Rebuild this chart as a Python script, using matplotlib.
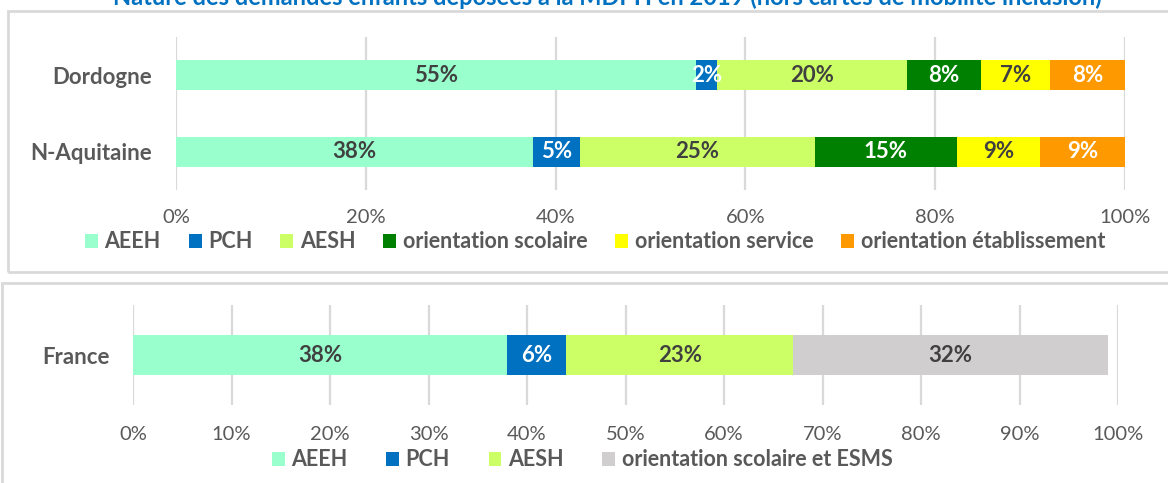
import matplotlib
matplotlib.use("Agg")
import matplotlib.pyplot as plt
from matplotlib.patches import Rectangle
from matplotlib.ticker import FuncFormatter

plt.rcParams['font.family'] = ['Lato', 'DejaVu Sans']

# ── Données ──────────────────────────────────────────────────
territoires = ["N-Aquitaine", "Dordogne"]
series_haut = ["AEEH", "PCH", "AESH", "orientation scolaire",
               "orientation service", "orientation établissement"]
valeurs_haut = {
    "N-Aquitaine": [37.6, 5.0, 24.7, 15.0, 8.7, 9.0],
    "Dordogne":    [54.8, 2.2, 20.0, 7.8, 7.3, 7.9],
}
couleurs_haut = ["#99FFCC", "#0070C0", "#CCFF66", "#008000", "#FFFF00", "#FF9900"]
texte_haut = ["#404040", "white", "#404040", "white", "#404040", "white"]

pays = ["France"]
series_bas = ["AEEH", "PCH", "AESH", "orientation scolaire et ESMS"]
valeurs_bas = [38.0, 6.0, 23.0, 32.0]
couleurs_bas = ["#99FFCC", "#0070C0", "#CCFF66", "#D0CECE"]
texte_bas = ["#404040", "white", "#404040", "#404040"]
# ─────────────────────────────────────────────────────────────

W, H = 1168, 483
fig = plt.figure(figsize=(W / 100, H / 100), dpi=100)

def px(x0, y0, x1, y1):
    # rectangle pixels -> coordonnées figure [left, bottom, width, height]
    return [x0 / W, 1 - y1 / H, (x1 - x0) / W, (y1 - y0) / H]

GRIS = "#595959"
GRILLE = "#D9D9D9"

# cadres des deux graphiques
for (x0, y0, x1, y1) in [(8, 11, 1180, 272), (2, 283, 1180, 500)]:
    r = px(x0, y0, x1, y1)
    fig.add_artist(Rectangle((r[0], r[1]), r[2], r[3], transform=fig.transFigure,
                             fill=False, edgecolor=GRILLE, lw=2, clip_on=False))

# titre (coupé en haut de l'image, comme dans l'original)
fig.text(607 / W, 1 + 3 / H, "Nature des demandes enfants déposées à la MDPH en 2019 "
         "(hors cartes de mobilité inclusion)", ha="center", va="center",
         color="#0070C0", fontsize=17, fontweight="bold")


def barres(ax, cats, data, noms, couleurs, couleurs_txt, hauteur):
    handles = []
    for i, nom in enumerate(noms):
        gauche = [sum(data[c][:i]) for c in cats]
        vals = [data[c][i] for c in cats]
        b = ax.barh(range(len(cats)), vals, left=gauche, height=hauteur,
                    color=couleurs[i], label=nom, zorder=3)
        handles.append(b)
        for y, (g, v) in enumerate(zip(gauche, vals)):
            ax.text(g + v / 2, y, f"{round(v):.0f}%", ha="center", va="center",
                    color=couleurs_txt[i], fontsize=16, fontweight="bold", zorder=4)
    ax.set_yticks(range(len(cats)))
    ax.set_yticklabels(cats, fontweight="bold", color=GRIS, fontsize=16)
    ax.set_ylim(-0.5, len(cats) - 0.5)
    ax.xaxis.set_major_formatter(FuncFormatter(lambda v, _: f"{v:.0f}%"))
    ax.grid(axis="x", color=GRILLE, lw=1.6, zorder=0)
    ax.set_axisbelow(True)
    for s in ax.spines.values():
        s.set_visible(False)
    ax.tick_params(axis="x", length=0, labelsize=14.5, colors=GRIS)
    ax.tick_params(axis="y", length=0)
    return handles


legende = dict(loc="center", frameon=False, handlelength=0.6, handleheight=0.6,
               handletextpad=0.3, prop={"weight": "bold", "size": 15.5}, labelcolor=GRIS)

# graphique du haut
ax1 = fig.add_axes(px(176, 37, 1125, 190))
h1 = barres(ax1, territoires, valeurs_haut, series_haut, couleurs_haut, texte_haut, 0.39)
ax1.set_xlim(0, 100)
ax1.set_xticks(range(0, 101, 20))
ax1.tick_params(axis="x", pad=14)
ax1.tick_params(axis="y", pad=17)
fig.legend(handles=h1, bbox_to_anchor=(595 / W, 1 - 242 / H), ncol=6,
           columnspacing=1.3, **legende)

# graphique du bas
ax2 = fig.add_axes(px(133, 305, 1118, 405))
h2 = barres(ax2, pays, {"France": valeurs_bas}, series_bas, couleurs_bas, texte_bas, 0.4)
ax2.set_xlim(0, 100)
ax2.set_xticks(range(0, 101, 10))
ax2.tick_params(axis="x", pad=15)
ax2.tick_params(axis="y", pad=17)
fig.legend(handles=h2, bbox_to_anchor=(582 / W, 1 - 460 / H), ncol=4,
           columnspacing=1.8, **legende)

fig.savefig("out.png", dpi=100)
